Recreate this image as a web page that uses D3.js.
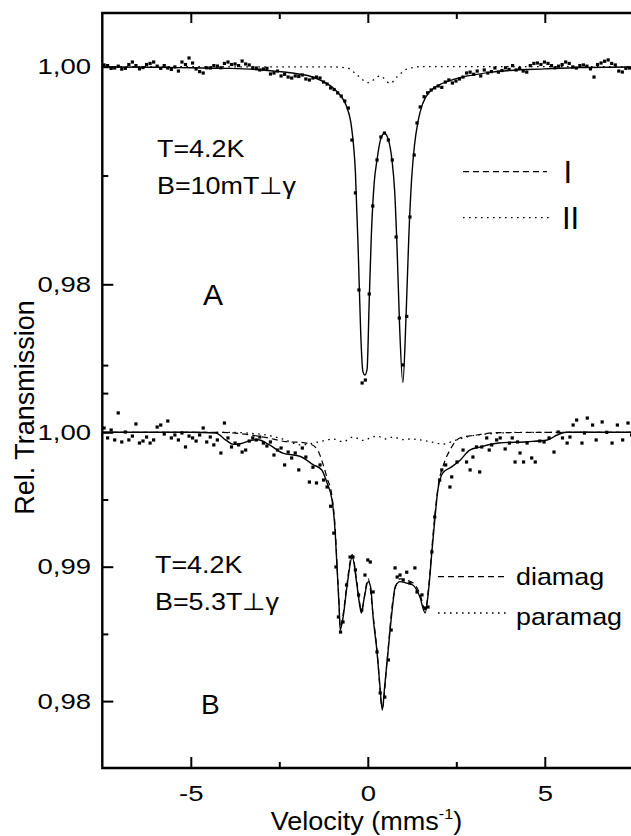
<!DOCTYPE html>
<html>
<head>
<meta charset="utf-8">
<script src="https://cdn.jsdelivr.net/npm/d3@7"></script>
<style>
  body { margin: 0; background: #fff; }
  svg { display: block; }
  text { font-family: "Liberation Sans", Arial, Helvetica, sans-serif; fill: #000; }
</style>
</head>
<body>
<svg id="chart" width="631" height="836"></svg>
<script>
// Tick values
const xMajorTicks = [-5, 0, 5];
const xMinorTicks = [-2.5, 2.5, 7.5];
const yMajorA = [1.0, 0.98];
const yMinorA = [0.99, 0.97];
const yMajorB = [1.0, 0.99, 0.98];
const yMinorB = [1.005, 0.995, 0.985];

// Panel A (T=4.2K, B=10mT): measured points [velocity, transmission]
const pointsA = [
  [-7.45,1.00016],[-7.35,1.0001],[-7.25,0.99985],[-7.15,0.99988],[-7.05,1.00005],[-6.95,0.99978],
  [-6.85,0.99985],[-6.75,1.0002],[-6.65,1.00043],[-6.55,1.0001],[-6.45,0.9998],[-6.35,0.99992],
  [-6.25,1.0002],[-6.15,1.0003],[-6.05,1.00043],[-5.95,1.00005],[-5.85,0.99985],[-5.75,1.0001],
  [-5.65,0.99988],[-5.55,0.99975],[-5.45,0.99998],[-5.35,0.9996],[-5.25,1.00043],[-5.15,1.0002],
  [-5.05,1.0008],[-4.95,1.00034],[-4.85,0.99979],[-4.75,0.99955],[-4.65,0.99942],[-4.55,0.9999],
  [-4.45,0.99988],[-4.35,1.0001],[-4.25,1.00006],[-4.15,0.9999],[-4.05,1.0003],[-3.95,1.00043],
  [-3.85,1.0002],[-3.75,1.00025],[-3.65,1.0001],[-3.55,1.00052],[-3.45,1.00025],[-3.35,1.00016],
  [-3.25,0.9999],[-3.15,0.99988],[-3.05,0.9997],[-2.95,0.99979],[-2.85,0.99985],[-2.75,0.99933],
  [-2.65,0.99942],[-2.55,0.9996],[-2.45,0.99915],[-2.35,0.9993],[-2.25,0.99905],[-2.15,0.99896],
  [-2.05,0.99915],[-1.95,0.9991],[-1.85,0.99924],[-1.75,0.99887],[-1.65,0.99878],[-1.55,0.99896],
  [-1.45,0.99905],[-1.35,0.99896],[-1.25,0.99859],[-1.15,0.99841],[-1.05,0.99804],[-0.95,0.9979],
  [-0.85,0.99759],[-0.75,0.9973],[-0.65,0.99685],[-0.55,0.9962],[-0.45,0.99326],[-0.35,0.9884],
  [-0.25,0.97948],[-0.16,0.97093],[-0.07,0.9712],[0.04,0.97911],[0.14,0.9872],[0.26,0.99143],
  [0.37,0.99354],[0.47,0.9939],[0.58,0.99326],[0.69,0.99143],[0.8,0.98435],[0.89,0.9769],
  [0.99,0.97259],[1.1,0.97705],[1.19,0.98619],[1.31,0.99188],[1.39,0.99483],[1.48,0.9963],
  [1.59,0.99724],[1.69,0.9976],[1.79,0.99786],[1.89,0.99805],[1.99,0.99823],[2.09,0.9981],
  [2.19,0.99859],[2.29,0.99878],[2.39,0.9985],[2.49,0.99868],[2.59,0.99887],[2.69,0.99905],
  [2.79,0.99942],[2.89,0.9995],[2.99,0.9993],[3.09,0.9996],[3.19,0.99915],[3.29,0.9997],
  [3.39,0.99942],[3.49,0.99955],[3.59,0.99988],[3.69,0.9995],[3.79,0.99965],[3.89,0.9999],
  [3.99,0.99975],[4.09,1.0001],[4.19,0.9997],[4.29,0.99985],[4.39,0.9996],[4.49,0.9995],
  [4.59,1.0001],[4.69,1.0003],[4.79,1.00034],[4.89,1.0002],[4.99,1.00043],[5.09,1.0003],
  [5.19,1.0001],[5.29,0.9999],[5.39,1.00005],[5.49,1.0002],[5.59,1.00043],[5.69,1.0003],
  [5.79,0.99998],[5.89,0.99988],[5.99,1.0001],[6.09,1.00016],[6.19,1.00005],[6.29,0.9998],
  [6.39,0.99905],[6.49,1.0002],[6.59,1.00034],[6.69,1.0005],[6.79,1.00062],[6.89,1.0003],
  [6.99,1.00016],[7.09,0.9996],[7.19,0.99951],[7.29,0.99985],[7.39,0.99988],[7.49,1.0001]
];

// Panel A total fit (solid)
const fitA = [
  [-7.5,0.99997],[-6,0.99995],[-5,0.9999],[-4,0.99985],[-3.5,0.9998],[-3,0.9997],[-2.5,0.99955],
  [-2,0.99935],[-1.6,0.9991],[-1.3,0.9987],[-1.0,0.9981],[-0.8,0.99745],[-0.6,0.99635],[-0.45,0.9942],
  [-0.35,0.9903],[-0.27,0.983],[-0.2,0.9755],[-0.14,0.972],[-0.08,0.97166],[-0.02,0.9722],[0.04,0.9785],
  [0.1,0.9845],[0.18,0.9893],[0.26,0.99143],[0.36,0.9933],[0.47,0.99388],[0.58,0.9933],[0.68,0.9915],
  [0.76,0.9885],[0.83,0.983],[0.9,0.976],[0.99,0.97096],[1.08,0.977],[1.16,0.9845],[1.24,0.9898],
  [1.32,0.9928],[1.42,0.995],[1.55,0.9966],[1.75,0.9977],[2.0,0.9983],[2.3,0.9987],[2.6,0.999],
  [3.0,0.99925],[3.5,0.9995],[4,0.99965],[5,0.9998],[6,0.99992],[7.5,0.99997]
];

// Panel A subspectrum II (dotted)
const compIIA = [
  [-7.5,1.0],[-1.0,0.99998],[-0.58,0.99988],[-0.3,0.99924],[0.01,0.99853],[0.35,0.99915],
  [0.63,0.99847],[0.83,0.99908],[1.11,0.99979],[1.5,1.0],[7.5,1.0]
];

// Panel B (T=4.2K, B=5.3T): measured points
const pointsB = [
  [-7.45,1.00032],[-7.35,0.99958],[-7.25,1.00017],[-7.15,0.99943],[-7.05,1.00144],[-6.95,0.99928],
  [-6.85,1.00002],[-6.75,0.99943],[-6.65,0.99972],[-6.55,1.00062],[-6.45,0.9992],[-6.35,0.99935],
  [-6.25,0.99965],[-6.15,0.9992],[-6.05,0.99943],[-5.95,1.00039],[-5.85,1.00054],[-5.75,0.99987],
  [-5.65,1.00084],[-5.55,0.99958],[-5.45,0.9998],[-5.35,0.99943],[-5.25,0.99995],[-5.15,0.99891],
  [-5.05,0.99972],[-4.95,0.99958],[-4.85,0.99935],[-4.75,0.9998],[-4.65,1.00032],[-4.55,0.99928],
  [-4.45,0.99965],[-4.35,0.99906],[-4.25,0.99943],[-4.15,0.99846],[-4.05,1.00069],[-3.95,0.99958],
  [-3.85,0.99891],[-3.75,0.9992],[-3.65,0.99906],[-3.55,0.99853],[-3.45,0.99868],[-3.35,0.99935],
  [-3.25,0.99958],[-3.15,0.99943],[-3.05,0.99965],[-2.95,0.9992],[-2.85,0.99898],[-2.75,0.99928],
  [-2.65,0.99831],[-2.55,0.99868],[-2.45,0.99883],[-2.35,0.99757],[-2.25,0.99853],[-2.15,0.99809],
  [-2.05,0.99846],[-1.95,0.9972],[-1.85,0.99883],[-1.75,0.99816],[-1.65,0.9963],[-1.55,0.9974],
  [-1.45,0.99623],[-1.35,0.99757],[-1.25,0.99645],[-1.15,0.99593],[-1.05,0.9945],[-0.96,0.9925],
  [-0.9,0.98998],[-0.83,0.98626],[-0.77,0.98514],[-0.7,0.98589],[-0.6,0.98864],[-0.5,0.99072],
  [-0.42,0.99072],[-0.35,0.98976],[-0.26,0.9879],[-0.17,0.98678],[-0.08,0.98938],[0.0,0.9905],
  [0.07,0.99035],[0.15,0.98812],[0.26,0.98366],[0.35,0.9806],[0.48,0.9803],[0.58,0.98306],
  [0.66,0.98529],[0.77,0.98991],[0.83,0.98923],[0.91,0.98938],[1.0,0.98901],[1.1,0.98959],
  [1.19,0.98879],[1.33,0.98991],[1.39,0.98812],[1.53,0.9879],[1.62,0.98693],[1.7,0.987],
  [1.81,0.9911],[1.89,0.9937],[2.03,0.99645],[2.09,0.9972],[2.2,0.99757],[2.32,0.99593],
  [2.37,0.99668],[2.52,0.99779],[2.69,0.99868],[2.79,0.99779],[2.89,0.9972],[2.97,0.99816],
  [3.07,0.99891],[3.16,0.99705],[3.22,0.99891],[3.36,0.99958],[3.43,0.99868],[3.5,0.99906],
  [3.64,0.99943],[3.74,0.99958],[3.88,0.99876],[4.0,0.9992],[4.08,0.99958],[4.16,0.99779],
  [4.23,0.99928],[4.3,0.99846],[4.4,0.99779],[4.5,0.9992],[4.63,0.99809],[4.73,0.99779],
  [4.86,0.99935],[4.98,0.99928],[5.12,0.99958],[5.26,0.99853],[5.38,1.00002],[5.5,0.99958],
  [5.63,0.9992],[5.71,0.99965],[5.8,1.00054],[5.9,1.00091],[6.05,0.9992],[6.12,0.99995],
  [6.2,1.00106],[6.35,1.00054],[6.45,0.99943],[6.62,1.00077],[6.75,1.0],[6.9,0.9992],
  [7.05,1.00054],[7.2,0.99943],[7.35,1.00069],[7.45,0.9998]
];

// Panel B total fit (solid)
const fitB = [
  [-7.5,1.0],[-5,1.0],[-4.3,0.99995],[-4.0,0.9994],[-3.8,0.9991],[-3.6,0.99915],[-3.3,0.9994],
  [-3.1,0.99945],[-2.8,0.9991],[-2.4,0.99845],[-1.9,0.9982],[-1.55,0.9976],[-1.3,0.9972],
  [-1.15,0.99623],[-1.01,0.99496],[-0.92,0.99251],[-0.87,0.98998],[-0.81,0.987],[-0.78,0.98529],
  [-0.7,0.9862],[-0.59,0.98849],[-0.44,0.99072],[-0.3,0.9885],[-0.22,0.987],[-0.18,0.98656],
  [-0.1,0.9877],[0.01,0.98889],[0.08,0.9885],[0.15,0.98626],[0.26,0.98366],[0.34,0.9812],
  [0.41,0.97934],[0.48,0.9812],[0.55,0.98306],[0.63,0.98529],[0.72,0.98752],[0.77,0.98849],
  [0.91,0.98889],[1.07,0.9888],[1.27,0.98864],[1.47,0.98776],[1.62,0.98656],[1.73,0.9886],
  [1.81,0.9911],[1.9,0.9937],[1.98,0.99571],[2.12,0.99698],[2.37,0.99743],[2.6,0.9979],
  [2.88,0.99868],[3.16,0.9989],[3.7,0.9992],[4.5,0.9993],[5.07,0.99943],[5.35,0.9998],
  [5.6,1.0],[7.5,1.0]
];

// Panel B diamagnetic subspectrum (dashed)
const diamagB = [
  [-7.5,1.0],[-4.2,1.0],[-2.85,0.9996],[-2.3,0.9993],[-1.9,0.99925],[-1.6,0.9991],[-1.4,0.9986],
  [-1.25,0.9975],[-1.15,0.9966],[-1.01,0.9952],[-0.92,0.9928],[-0.87,0.9902],[-0.81,0.9872],
  [-0.78,0.9855],[-0.7,0.9864],[-0.59,0.9887],[-0.44,0.9909],[-0.3,0.9887],[-0.18,0.9868],
  [0.01,0.9891],[0.15,0.9864],[0.26,0.9838],[0.41,0.9795],[0.55,0.9832],[0.72,0.9877],
  [0.91,0.9891],[1.27,0.9888],[1.47,0.988],[1.62,0.9868],[1.73,0.9888],[1.81,0.9914],
  [1.9,0.994],[2.0,0.9962],[2.12,0.99743],[2.32,0.99868],[2.6,0.99958],[3.08,0.9998],
  [3.7,0.99998],[7.5,1.0]
];

// Panel B paramagnetic subspectrum (dotted)
const paramagB = [
  [-7.5,1.0],[-4.0,1.0],[-3.0,0.99985],[-2.4,0.9995],[-1.9,0.99906],[-1.54,0.9992],[-1.2,0.9994],
  [-0.98,0.9995],[-0.7,0.9993],[-0.41,0.99965],[-0.15,0.9994],[0.26,0.99972],[0.5,0.9995],
  [0.71,0.99965],[1.0,0.99945],[1.19,0.9995],[1.67,0.99935],[2.13,0.99913],[2.47,0.9994],
  [2.89,0.99972],[3.5,0.9999],[4.5,1.0],[7.5,1.0]
];

const svg = d3.select("#chart");
const plotLeft = 102.3, plotTop = 13, plotBottom = 768;

const x = d3.scaleLinear().domain([-7.5, 7.5]).range([plotLeft, 633.3]);
const yA = d3.scaleLinear().domain([1.0, 0.98]).range([66.7, 284.3]);
const yB = d3.scaleLinear().domain([1.0, 0.98]).range([432.3, 701.1]);

const comma = d3.formatLocale({ decimal: ",", thousands: ".", grouping: [3], currency: ["", ""] }).format(".2f");

// helper for the slightly wide lettering of the original
function note(txt, px, py, size, sx) {
  return svg.append("text")
    .attr("transform", `translate(${px},${py}) scale(${sx},1)`)
    .attr("font-size", size)
    .text(txt);
}

function styleAxis(g, labelScale) {
  g.select(".domain").remove();
  g.selectAll(".tick line").attr("stroke", "#000").attr("stroke-width", 2);
  g.selectAll(".tick text")
    .attr("fill", "#000")
    .attr("font-size", 22)
    .attr("font-family", '"Liberation Sans", Arial, sans-serif')
    .attr("transform", `scale(${labelScale},1)`);
}

// x axes (bottom + top, ticks inward)
svg.append("g").attr("transform", `translate(0,${plotBottom})`)
  .call(d3.axisBottom(x).tickValues(xMajorTicks).tickSize(-11).tickPadding(17).tickFormat(d => String(d)))
  .call(g => styleAxis(g, 1.25));
svg.append("g").attr("transform", `translate(0,${plotBottom})`)
  .call(d3.axisBottom(x).tickValues(xMinorTicks).tickSize(-6).tickFormat(""))
  .call(g => styleAxis(g, 1));
svg.append("g").attr("transform", `translate(0,${plotTop})`)
  .call(d3.axisTop(x).tickValues(xMajorTicks).tickSize(-10).tickFormat(""))
  .call(g => styleAxis(g, 1));
svg.append("g").attr("transform", `translate(0,${plotTop})`)
  .call(d3.axisTop(x).tickValues(xMinorTicks).tickSize(-6).tickFormat(""))
  .call(g => styleAxis(g, 1));

// y axes, both panels share the left spine
[[yA, yMajorA, yMinorA], [yB, yMajorB, yMinorB]].forEach(([y, major, minor]) => {
  svg.append("g").attr("transform", `translate(${plotLeft},0)`)
    .call(d3.axisLeft(y).tickValues(major).tickSize(-11).tickPadding(9).tickFormat(comma))
    .call(g => styleAxis(g, 1.25));
  svg.append("g").attr("transform", `translate(${plotLeft},0)`)
    .call(d3.axisLeft(y).tickValues(minor).tickSize(-6).tickFormat(""))
    .call(g => styleAxis(g, 1));
});

// frame
svg.append("path")
  .attr("d", `M631,${plotTop}H${plotLeft}V${plotBottom}H631`)
  .attr("fill", "none").attr("stroke", "#000").attr("stroke-width", 2.4);

// curves
function curve(data, y, dash, width) {
  svg.append("path")
    .datum(data)
    .attr("fill", "none")
    .attr("stroke", "#000")
    .attr("stroke-width", width)
    .attr("stroke-dasharray", dash)
    .attr("d", d3.line().x(d => x(d[0])).y(d => y(d[1])).curve(d3.curveMonotoneX));
}

curve(compIIA, yA, "1.6,4.4", 1.3);
curve(paramagB, yB, "1.6,4.4", 1.3);
curve(diamagB, yB, "6,4", 1.2);
curve(fitA, yA, null, 1.4);
curve(fitB, yB, null, 1.4);

// data points
function dots(data, y) {
  svg.append("g").selectAll("rect")
    .data(data)
    .join("rect")
    .attr("x", d => x(d[0]) - 1.6)
    .attr("y", d => y(d[1]) - 1.6)
    .attr("width", 3.2)
    .attr("height", 3.2)
    .attr("fill", "#000");
}
dots(pointsA, yA);
dots(pointsB, yB);

// panel annotations
note("T=4.2K", 157, 157, 24, 1.12);
note("B=10mT\u22A5\u03B3", 157, 194, 24, 1.12);
note("A", 203, 305, 30, 1);
note("T=4.2K", 155, 573, 24, 1.12);
note("B=5.3T\u22A5\u03B3", 155, 610, 24, 1.12);
note("B", 201, 714, 28, 1);

// legends
function legendLine(x1, x2, yy, dash) {
  svg.append("line")
    .attr("x1", x1).attr("x2", x2).attr("y1", yy).attr("y2", yy)
    .attr("stroke", "#000").attr("stroke-width", 1.3).attr("stroke-dasharray", dash);
}
legendLine(463, 547, 171.7, "6,4");
legendLine(463, 550, 217.7, "1.6,4.4");
note("I", 563.5, 183, 31, 1);
note("II", 562, 229, 31, 1);
legendLine(438, 508, 576.7, "6,4");
legendLine(438, 508, 613, "1.6,4.4");
note("diamag", 516, 585, 24, 1.12);
note("paramag", 516, 625, 24, 1.12);

// axis titles
const xt = svg.append("text")
  .attr("transform", "translate(366.5,830) scale(1.08,1)")
  .attr("text-anchor", "middle")
  .attr("font-size", 25);
xt.append("tspan").text("Velocity (mms");
xt.append("tspan").attr("font-size", 15).attr("dy", -11).text("-1");
xt.append("tspan").attr("dy", 11).text(")");

svg.append("text")
  .attr("transform", "translate(33.5,407.5) rotate(-90)")
  .attr("text-anchor", "middle")
  .attr("font-size", 27)
  .text("Rel. Transmission");
</script>
</body>
</html>
